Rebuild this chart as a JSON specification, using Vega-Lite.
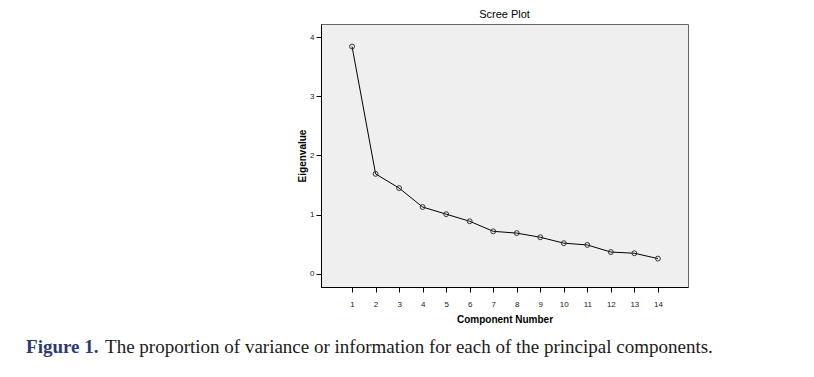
{
  "$schema": "https://vega.github.io/schema/vega-lite/v6.json",
  "background": "white",
  "padding": {"left": 26, "top": 8, "right": 5, "bottom": 5},
  "title": {
    "text": "The proportion of variance or information for each of the principal components.",
    "orient": "bottom",
    "anchor": "start",
    "frame": "bounds",
    "font": "Liberation Serif",
    "fontSize": 19,
    "fontWeight": "normal",
    "color": "#1a1a1a",
    "dx": 79,
    "dy": -19,
    "offset": 0
  },
  "vconcat": [
    {
      "title": {
        "text": "Figure 1.",
        "orient": "bottom",
        "anchor": "start",
        "frame": "bounds",
        "font": "Liberation Serif",
        "fontSize": 19,
        "fontWeight": "bold",
        "color": "#2d3a6e",
        "dx": -271,
        "offset": 13
      },
      "vconcat": [
        {
          "width": 367,
          "height": 263,
          "title": {
            "text": "Scree Plot",
            "font": "Liberation Sans",
            "fontSize": 11,
            "fontWeight": "normal",
            "color": "#000000",
            "offset": 4,
            "anchor": "middle",
            "frame": "group"
          },
          "data": {
            "values": [
              {"component": 1, "eigenvalue": 3.84},
              {"component": 2, "eigenvalue": 1.69},
              {"component": 3, "eigenvalue": 1.45},
              {"component": 4, "eigenvalue": 1.13},
              {"component": 5, "eigenvalue": 1.01},
              {"component": 6, "eigenvalue": 0.89},
              {"component": 7, "eigenvalue": 0.72},
              {"component": 8, "eigenvalue": 0.69},
              {"component": 9, "eigenvalue": 0.62},
              {"component": 10, "eigenvalue": 0.52},
              {"component": 11, "eigenvalue": 0.49},
              {"component": 12, "eigenvalue": 0.37},
              {"component": 13, "eigenvalue": 0.35},
              {"component": 14, "eigenvalue": 0.26}
            ]
          },
          "encoding": {
            "x": {
              "field": "component",
              "type": "quantitative",
              "scale": {"domain": [-0.32, 15.28], "nice": false, "zero": false},
              "axis": {
                "title": "Component Number",
                "values": [1,2,3,4,5,6,7,8,9,10,11,12,13,14],
                "grid": false,
                "domainColor": "#000000",
                "tickColor": "#000000",
                "tickSize": 5,
                "labelFont": "Liberation Sans",
                "labelFontSize": 8,
                "labelColor": "#222222",
                "labelPadding": 8,
                "titleFont": "Liberation Sans",
                "titleFontSize": 10,
                "titleFontWeight": "bold",
                "titleColor": "#000000",
                "titlePadding": 6
              }
            },
            "y": {
              "field": "eigenvalue",
              "type": "quantitative",
              "scale": {"domain": [-0.22, 4.22], "nice": false, "zero": false},
              "axis": {
                "title": "Eigenvalue",
                "values": [0,1,2,3,4],
                "grid": false,
                "domainColor": "#000000",
                "tickColor": "#000000",
                "tickSize": 5,
                "labelFont": "Liberation Sans",
                "labelFontSize": 8,
                "labelColor": "#222222",
                "labelPadding": 2,
                "titleFont": "Liberation Sans",
                "titleFontSize": 10,
                "titleFontWeight": "bold",
                "titleColor": "#000000",
                "titlePadding": 2
              }
            }
          },
          "layer": [
            {"mark": {"type": "line", "color": "#000000", "strokeWidth": 1}},
            {"mark": {"type": "point", "shape": "circle", "filled": false, "size": 24, "stroke": "#333333", "strokeWidth": 1, "opacity": 1}}
          ]
        }
      ]
    }
  ],
  "config": {
    "view": {"fill": "#efefef", "stroke": "#666666", "strokeWidth": 1}
  }
}
